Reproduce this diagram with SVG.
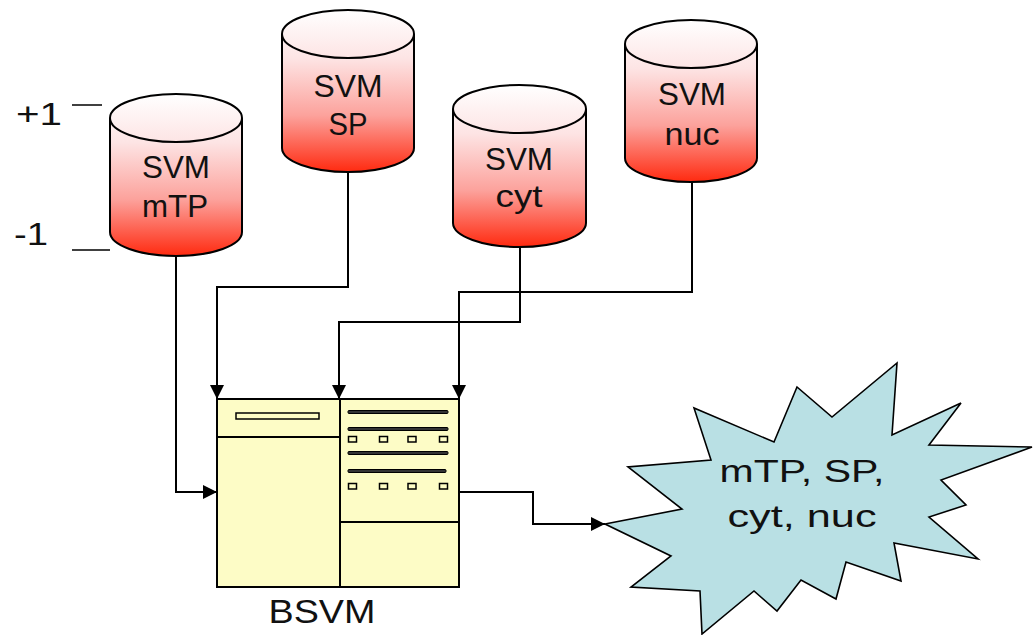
<svg xmlns="http://www.w3.org/2000/svg" width="1033" height="635" viewBox="0 0 1033 635">
<defs>
<linearGradient id="red" x1="0" y1="0" x2="0" y2="1">
<stop offset="0" stop-color="#ffffff"/>
<stop offset="0.3" stop-color="#fde4e4"/>
<stop offset="0.65" stop-color="#fca29c"/>
<stop offset="1" stop-color="#ff2a10"/>
</linearGradient>
<marker id="arr" viewBox="0 0 14 14" refX="14" refY="7" markerWidth="14" markerHeight="14" markerUnits="userSpaceOnUse" orient="auto">
<path d="M0,0 L14,7 L0,14 Z" fill="#000"/>
</marker>
<style>
.cyl{fill:url(#red);stroke:#000;stroke-width:2}
.top{fill:none;stroke:#000;stroke-width:2}
.t{font-family:"Liberation Sans","DejaVu Sans",sans-serif;font-size:32px;fill:#111;text-anchor:middle}
.con{fill:none;stroke:#000;stroke-width:2}
.box{fill:#fdfcc6;stroke:#000;stroke-width:2}
.bar{fill:#fdfcc6;stroke:#000;stroke-width:1.5}
.ln{fill:#333;stroke:#000;stroke-width:1}
</style>
</defs>

<g id="scale">
<text class="t" x="39" y="125" textLength="46" lengthAdjust="spacingAndGlyphs">+1</text>
<text class="t" x="31" y="245" textLength="34" lengthAdjust="spacingAndGlyphs">-1</text>
<line x1="72" y1="105" x2="102" y2="105" stroke="#000" stroke-width="1.5"/>
<line x1="72" y1="250" x2="110" y2="250" stroke="#000" stroke-width="1.5"/>
</g>

<g id="svm-mtp">
<path class="cyl" d="M110,118 L110,232 A66,24 0 0 0 242,232 L242,118 A66,24 0 0 0 110,118 Z"/>
<path class="top" d="M110,118 A66,24 0 0 0 242,118"/>
<text class="t" x="176" y="178" textLength="68" lengthAdjust="spacingAndGlyphs">SVM</text>
<text class="t" x="175" y="217" textLength="66" lengthAdjust="spacingAndGlyphs">mTP</text>
</g>

<g id="svm-sp">
<path class="cyl" d="M282,34 L282,148 A66,24 0 0 0 414,148 L414,34 A66,24 0 0 0 282,34 Z"/>
<path class="top" d="M282,34 A66,24 0 0 0 414,34"/>
<text class="t" x="348" y="97" textLength="69" lengthAdjust="spacingAndGlyphs">SVM</text>
<text class="t" x="348" y="135" textLength="39" lengthAdjust="spacingAndGlyphs">SP</text>
</g>

<g id="svm-cyt">
<path class="cyl" d="M453,109 L453,223 A66.5,24 0 0 0 586,223 L586,109 A66.5,24 0 0 0 453,109 Z"/>
<path class="top" d="M453,109 A66.5,24 0 0 0 586,109"/>
<text class="t" x="519" y="170" textLength="68" lengthAdjust="spacingAndGlyphs">SVM</text>
<text class="t" x="519" y="207" textLength="47" lengthAdjust="spacingAndGlyphs">cyt</text>
</g>

<g id="svm-nuc">
<path class="cyl" d="M625,44 L625,158 A66,24 0 0 0 757,158 L757,44 A66,24 0 0 0 625,44 Z"/>
<path class="top" d="M625,44 A66,24 0 0 0 757,44"/>
<text class="t" x="692" y="105" textLength="68" lengthAdjust="spacingAndGlyphs">SVM</text>
<text class="t" x="692" y="145" textLength="55" lengthAdjust="spacingAndGlyphs">nuc</text>
</g>

<g id="connectors">
<path class="con" d="M176,256 L176,492 L217,492" marker-end="url(#arr)"/>
<path class="con" d="M348,172 L348,287 L217,287 L217,399" marker-end="url(#arr)"/>
<path class="con" d="M520,247 L520,322 L339,322 L339,399" marker-end="url(#arr)"/>
<path class="con" d="M692,182 L692,292 L459,292 L459,399" marker-end="url(#arr)"/>
<path class="con" d="M460,492 L533,492 L533,524 L605,524" marker-end="url(#arr)"/>
</g>

<g id="bsvm">
<rect class="box" x="217" y="399" width="242" height="188"/>
<line x1="340" y1="399" x2="340" y2="587" stroke="#000" stroke-width="2"/>
<line x1="217" y1="437" x2="340" y2="437" stroke="#000" stroke-width="2"/>
<line x1="340" y1="522" x2="459" y2="522" stroke="#000" stroke-width="2"/>
<rect class="bar" x="236" y="413" width="83" height="6"/>
<rect class="ln" x="348" y="410.5" width="100" height="3" rx="1"/>
<rect class="ln" x="348" y="427.5" width="100" height="3" rx="1"/>
<rect class="ln" x="348" y="451.5" width="100" height="3" rx="1"/>
<rect class="ln" x="348" y="469.5" width="98" height="3" rx="1"/>
<rect class="bar" x="348.5" y="436.5" width="8" height="5.5"/>
<rect class="bar" x="379.5" y="436.5" width="8" height="5.5"/>
<rect class="bar" x="408" y="436.5" width="8" height="5.5"/>
<rect class="bar" x="439.5" y="436.5" width="8" height="5.5"/>
<rect class="bar" x="348.5" y="483.5" width="8" height="5.5"/>
<rect class="bar" x="379.5" y="483.5" width="8" height="5.5"/>
<rect class="bar" x="408" y="483.5" width="8" height="5.5"/>
<rect class="bar" x="439.5" y="483.5" width="8" height="5.5"/>
<text class="t" x="322" y="623" style="font-size:33px" textLength="107" lengthAdjust="spacingAndGlyphs">BSVM</text>
</g>

<g id="result">
<path d="M605,524 L682,509 L628,467 L711,460 L694,408 L774,442 L797,387 L832,417 L897,363 L892,435 L961,403 L929,445 L1032,447 L941,480 L966,505 L929,517 L978,559 L894,543 L901,581 L846,562 L836,599 L801,580 L777,611 L754,591 L702,634 L700,591 L631,587 L671,556 Z" fill="#b9e0e4" stroke="#000" stroke-width="1.6" stroke-linejoin="miter"/>
<text class="t" x="802" y="482" textLength="165" lengthAdjust="spacingAndGlyphs">mTP, SP,</text>
<text class="t" x="802" y="527" textLength="149" lengthAdjust="spacingAndGlyphs">cyt, nuc</text>
</g>
</svg>
